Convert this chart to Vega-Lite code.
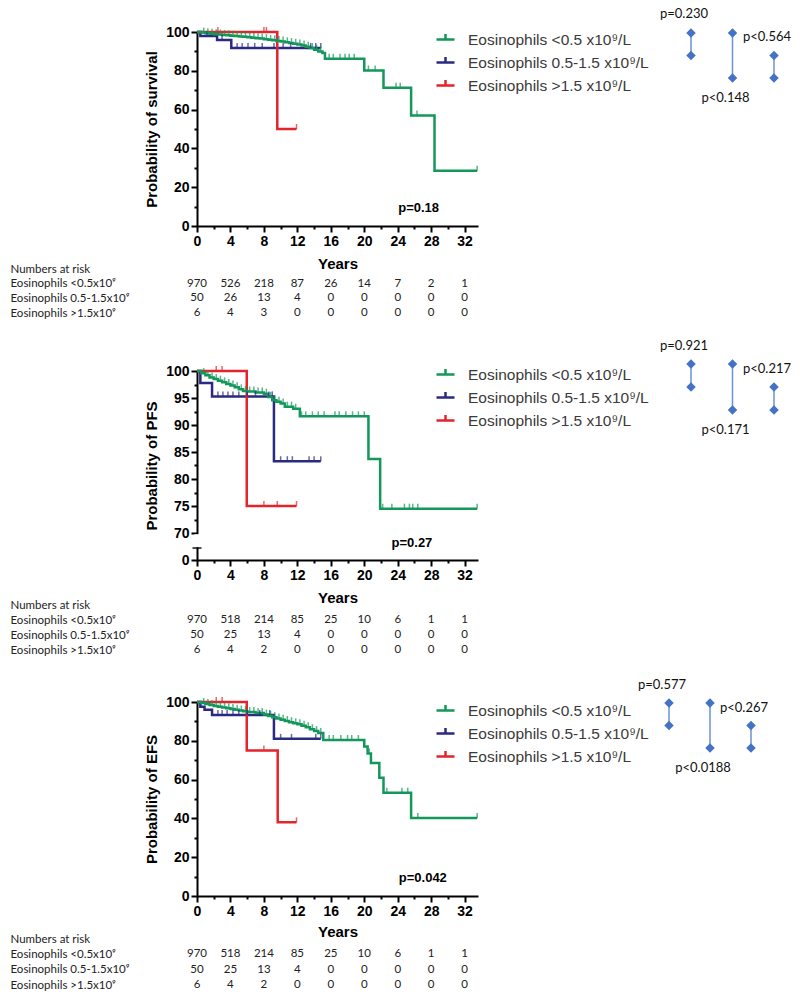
{
  "$schema": "https://vega.github.io/schema/vega-lite/v6.json",
  "padding": {"left": 10, "top": 8, "right": 5, "bottom": 5},
  "background": "white",
  "config": {
    "view": {"stroke": null},
    "axis": {"grid": false, "domainColor": "#000", "domainWidth": 2, "tickColor": "#000", "tickWidth": 2,
      "labelFont": "Liberation Sans", "labelFontWeight": "bold", "labelFontSize": 14, "labelColor": "#000",
      "titleFont": "Liberation Sans", "titleFontWeight": "bold", "titleFontSize": 15, "titleColor": "#000",
      "labelFlush": false, "labelOverlap": false},
    "legend": {"orient": "none", "legendX": 238, "title": null, "padding": 0,
      "symbolType": "M-1,0H1M0,0V-0.6", "symbolSize": 324, "symbolStrokeWidth": 2.5,
      "labelFont": "Liberation Sans", "labelFontSize": 15.5, "labelColor": "#3a3a3a", "labelOffset": 12, "rowPadding": 4, "labelLimit": 300}
  },
  "datasets": {
    "os_c": [
      {"g":"mid","t":0,"s":100},{"g":"mid","t":0.4,"s":98},{"g":"mid","t":2.4,"s":95.9},{"g":"mid","t":4.1,"s":91.8},{"g":"mid","t":14.8,"s":91.8},
      {"g":"hi","t":0,"s":100},{"g":"hi","t":9.6,"s":50},{"g":"hi","t":11.9,"s":50},
      {"g":"lo","t":0,"s":100},{"g":"lo","t":0.5,"s":99.7},{"g":"lo","t":1,"s":99.4},{"g":"lo","t":1.5,"s":99.1},{"g":"lo","t":2,"s":98.9},{"g":"lo","t":2.5,"s":98.7},{"g":"lo","t":3,"s":98.5},{"g":"lo","t":3.5,"s":98.3},{"g":"lo","t":4,"s":98.1},{"g":"lo","t":4.5,"s":97.9},{"g":"lo","t":5,"s":97.7},{"g":"lo","t":5.5,"s":97.5},{"g":"lo","t":6,"s":97.3},{"g":"lo","t":6.5,"s":97.1},{"g":"lo","t":7,"s":96.8},{"g":"lo","t":7.5,"s":96.6},{"g":"lo","t":8,"s":96.3},{"g":"lo","t":8.5,"s":96.0},{"g":"lo","t":9,"s":95.7},{"g":"lo","t":9.5,"s":95.4},{"g":"lo","t":10,"s":95.1},{"g":"lo","t":10.5,"s":94.7},{"g":"lo","t":11,"s":94.3},{"g":"lo","t":11.5,"s":93.9},{"g":"lo","t":12,"s":93.5},{"g":"lo","t":12.5,"s":93.0},{"g":"lo","t":13,"s":92.4},{"g":"lo","t":13.5,"s":91.7},{"g":"lo","t":14,"s":90.9},{"g":"lo","t":14.5,"s":90.0},{"g":"lo","t":15,"s":89.2},{"g":"lo","t":15.3,"s":86.2},{"g":"lo","t":20,"s":80.2},{"g":"lo","t":22.3,"s":71.2},{"g":"lo","t":25.6,"s":57},{"g":"lo","t":28.4,"s":28.5},{"g":"lo","t":33.5,"s":28.5}
    ],
    "os_t": [
      {"g":"hi","t":2.5,"s":100},{"g":"hi","t":8.0,"s":100},{"g":"hi","t":8.3,"s":100},{"g":"hi","t":11.9,"s":50},
      {"g":"mid","t":1.2,"s":98},{"g":"mid","t":3,"s":95.9},{"g":"mid","t":4.8,"s":91.8},{"g":"mid","t":5.4,"s":91.8},{"g":"mid","t":6.1,"s":91.8},{"g":"mid","t":6.9,"s":91.8},{"g":"mid","t":7.8,"s":91.8},{"g":"mid","t":9.2,"s":91.8},{"g":"mid","t":10.3,"s":91.8},{"g":"mid","t":11.2,"s":91.8},{"g":"mid","t":13.6,"s":91.8},{"g":"mid","t":14.2,"s":91.8},{"g":"mid","t":14.8,"s":91.8},
      {"g":"lo","t":0.8,"s":99.7},{"g":"lo","t":1.8,"s":99.1},{"g":"lo","t":2.8,"s":98.7},{"g":"lo","t":3.8,"s":98.3},{"g":"lo","t":4.8,"s":97.9},{"g":"lo","t":5.8,"s":97.5},{"g":"lo","t":6.8,"s":97.1},{"g":"lo","t":7.8,"s":96.6},{"g":"lo","t":8.8,"s":96.0},{"g":"lo","t":9.8,"s":95.4},{"g":"lo","t":10.8,"s":94.7},{"g":"lo","t":11.8,"s":93.9},{"g":"lo","t":12.8,"s":93.0},{"g":"lo","t":13.8,"s":91.7},{"g":"lo","t":14.8,"s":90.0},
      {"g":"lo","t":1.3,"s":99.4},{"g":"lo","t":2.3,"s":98.9},{"g":"lo","t":3.3,"s":98.5},{"g":"lo","t":4.3,"s":98.1},{"g":"lo","t":5.3,"s":97.7},{"g":"lo","t":6.3,"s":97.3},{"g":"lo","t":7.3,"s":96.8},{"g":"lo","t":8.3,"s":96.3},{"g":"lo","t":9.3,"s":95.7},{"g":"lo","t":10.3,"s":95.1},{"g":"lo","t":11.3,"s":94.3},{"g":"lo","t":12.3,"s":93.5},{"g":"lo","t":13.3,"s":92.4},{"g":"lo","t":14.3,"s":90.9},
      {"g":"lo","t":15.8,"s":86.2},{"g":"lo","t":16.3,"s":86.2},{"g":"lo","t":17.1,"s":86.2},{"g":"lo","t":17.7,"s":86.2},{"g":"lo","t":18.2,"s":86.2},{"g":"lo","t":18.8,"s":86.2},{"g":"lo","t":20.5,"s":80.2},{"g":"lo","t":21.3,"s":80.2},{"g":"lo","t":23.8,"s":71.2},{"g":"lo","t":24.3,"s":71.2},{"g":"lo","t":26.3,"s":57},{"g":"lo","t":33.5,"s":28.5}
    ],
    "pfs_c": [
      {"g":"mid","t":0,"s":100},{"g":"mid","t":0.4,"s":97.8},{"g":"mid","t":1.8,"s":95.3},{"g":"mid","t":9.2,"s":83.3},{"g":"mid","t":14.8,"s":83.3},
      {"g":"hi","t":0,"s":100},{"g":"hi","t":5.95,"s":75},{"g":"hi","t":11.9,"s":75},
      {"g":"lo","t":0,"s":100},{"g":"lo","t":0.5,"s":99.6},{"g":"lo","t":1,"s":99.2},{"g":"lo","t":1.5,"s":98.8},{"g":"lo","t":2,"s":98.5},{"g":"lo","t":2.5,"s":98.2},{"g":"lo","t":3,"s":97.9},{"g":"lo","t":3.5,"s":97.6},{"g":"lo","t":4,"s":97.3},{"g":"lo","t":4.5,"s":97.0},{"g":"lo","t":5,"s":96.6},{"g":"lo","t":5.5,"s":96.3},{"g":"lo","t":6,"s":96.2},{"g":"lo","t":7,"s":96.0},{"g":"lo","t":8,"s":95.8},{"g":"lo","t":8.5,"s":95.2},{"g":"lo","t":9,"s":94.6},{"g":"lo","t":9.5,"s":94.3},{"g":"lo","t":10,"s":94.0},{"g":"lo","t":10.5,"s":93.4},{"g":"lo","t":11.5,"s":93.0},{"g":"lo","t":12.3,"s":91.6},{"g":"lo","t":20.5,"s":83.7},{"g":"lo","t":21.9,"s":74.5},{"g":"lo","t":33.5,"s":74.5}
    ],
    "pfs_t": [
      {"g":"hi","t":2.3,"s":100},{"g":"hi","t":3,"s":100},{"g":"hi","t":8,"s":75},{"g":"hi","t":9.6,"s":75},{"g":"hi","t":11.9,"s":75},
      {"g":"mid","t":2.5,"s":95.3},{"g":"mid","t":3.1,"s":95.3},{"g":"mid","t":3.7,"s":95.3},{"g":"mid","t":4.3,"s":95.3},{"g":"mid","t":5,"s":95.3},{"g":"mid","t":6,"s":95.3},{"g":"mid","t":7,"s":95.3},{"g":"mid","t":8.6,"s":95.3},{"g":"mid","t":9,"s":95.3},{"g":"mid","t":10,"s":83.3},{"g":"mid","t":10.8,"s":83.3},{"g":"mid","t":11.4,"s":83.3},{"g":"mid","t":13.4,"s":83.3},{"g":"mid","t":14,"s":83.3},{"g":"mid","t":14.8,"s":83.3},
      {"g":"lo","t":0.8,"s":99.6},{"g":"lo","t":1.8,"s":98.8},{"g":"lo","t":2.8,"s":98.2},{"g":"lo","t":3.8,"s":97.6},{"g":"lo","t":4.8,"s":97.0},{"g":"lo","t":5.8,"s":96.3},{"g":"lo","t":6.8,"s":96.2},{"g":"lo","t":7.8,"s":96.0},{"g":"lo","t":8.8,"s":95.2},{"g":"lo","t":9.8,"s":94.3},{"g":"lo","t":10.8,"s":93.4},{"g":"lo","t":11.8,"s":93.0},
      {"g":"lo","t":1.3,"s":99.2},{"g":"lo","t":2.3,"s":98.5},{"g":"lo","t":3.3,"s":97.9},{"g":"lo","t":4.3,"s":97.3},{"g":"lo","t":5.3,"s":96.6},{"g":"lo","t":6.3,"s":96.2},{"g":"lo","t":7.3,"s":96.0},{"g":"lo","t":8.3,"s":95.8},{"g":"lo","t":9.3,"s":94.6},{"g":"lo","t":10.3,"s":94.0},{"g":"lo","t":11.3,"s":93.4},{"g":"lo","t":12.5,"s":91.6},
      {"g":"lo","t":13,"s":91.6},{"g":"lo","t":13.8,"s":91.6},{"g":"lo","t":14.5,"s":91.6},{"g":"lo","t":15.2,"s":91.6},{"g":"lo","t":16.5,"s":91.6},{"g":"lo","t":17,"s":91.6},{"g":"lo","t":17.8,"s":91.6},{"g":"lo","t":18.6,"s":91.6},{"g":"lo","t":19.3,"s":91.6},{"g":"lo","t":20,"s":91.6},{"g":"lo","t":22.2,"s":74.5},{"g":"lo","t":23.3,"s":74.5},{"g":"lo","t":24.8,"s":74.5},{"g":"lo","t":25.4,"s":74.5},{"g":"lo","t":25.8,"s":74.5},{"g":"lo","t":26.4,"s":74.5},{"g":"lo","t":33.5,"s":74.5}
    ],
    "efs_c": [
      {"g":"mid","t":0,"s":100},{"g":"mid","t":0.4,"s":97.5},{"g":"mid","t":0.9,"s":96},{"g":"mid","t":1.8,"s":93.3},{"g":"mid","t":9.2,"s":81},{"g":"mid","t":14.8,"s":81},
      {"g":"hi","t":0,"s":100},{"g":"hi","t":5.95,"s":75},{"g":"hi","t":9.65,"s":38},{"g":"hi","t":11.9,"s":38},
      {"g":"lo","t":0,"s":100},{"g":"lo","t":0.5,"s":99.5},{"g":"lo","t":1,"s":99.0},{"g":"lo","t":1.5,"s":98.5},{"g":"lo","t":2,"s":98.0},{"g":"lo","t":2.5,"s":97.6},{"g":"lo","t":3,"s":97.2},{"g":"lo","t":3.5,"s":96.8},{"g":"lo","t":4,"s":96.4},{"g":"lo","t":4.5,"s":96.0},{"g":"lo","t":5,"s":95.6},{"g":"lo","t":5.5,"s":95.2},{"g":"lo","t":6,"s":94.8},{"g":"lo","t":7,"s":94.3},{"g":"lo","t":8,"s":93.5},{"g":"lo","t":8.5,"s":92.8},{"g":"lo","t":9,"s":92.2},{"g":"lo","t":9.5,"s":91.5},{"g":"lo","t":10,"s":90.8},{"g":"lo","t":10.5,"s":90.2},{"g":"lo","t":11,"s":89.6},{"g":"lo","t":11.5,"s":89.0},{"g":"lo","t":12,"s":88.5},{"g":"lo","t":12.5,"s":87.8},{"g":"lo","t":13,"s":87.0},{"g":"lo","t":13.5,"s":86.0},{"g":"lo","t":14,"s":85.0},{"g":"lo","t":14.5,"s":84.0},{"g":"lo","t":15.1,"s":80.4},{"g":"lo","t":20,"s":77},{"g":"lo","t":20.4,"s":73.5},{"g":"lo","t":20.8,"s":68.5},{"g":"lo","t":21.8,"s":61},{"g":"lo","t":22.3,"s":53.2},{"g":"lo","t":25.6,"s":40.2},{"g":"lo","t":33.5,"s":40.2}
    ],
    "efs_t": [
      {"g":"hi","t":2.3,"s":100},{"g":"hi","t":3,"s":100},{"g":"hi","t":8,"s":75},{"g":"hi","t":11.9,"s":38},
      {"g":"mid","t":2.5,"s":93.3},{"g":"mid","t":3,"s":93.3},{"g":"mid","t":3.6,"s":93.3},{"g":"mid","t":4.3,"s":93.3},{"g":"mid","t":5,"s":93.3},{"g":"mid","t":6,"s":93.3},{"g":"mid","t":7.5,"s":93.3},{"g":"mid","t":8.7,"s":93.3},{"g":"mid","t":10,"s":81},{"g":"mid","t":11.3,"s":81},{"g":"mid","t":14.2,"s":81},{"g":"mid","t":14.8,"s":81},
      {"g":"lo","t":0.8,"s":99.5},{"g":"lo","t":1.8,"s":98.5},{"g":"lo","t":2.8,"s":97.6},{"g":"lo","t":3.8,"s":96.8},{"g":"lo","t":4.8,"s":96.0},{"g":"lo","t":5.8,"s":95.2},{"g":"lo","t":6.8,"s":94.8},{"g":"lo","t":7.8,"s":94.3},{"g":"lo","t":8.8,"s":92.8},{"g":"lo","t":9.8,"s":91.5},{"g":"lo","t":10.8,"s":90.2},{"g":"lo","t":11.8,"s":89.0},{"g":"lo","t":12.8,"s":87.8},{"g":"lo","t":13.8,"s":86.0},{"g":"lo","t":14.8,"s":84.0},
      {"g":"lo","t":1.3,"s":99.0},{"g":"lo","t":2.3,"s":98.0},{"g":"lo","t":3.3,"s":97.2},{"g":"lo","t":4.3,"s":96.4},{"g":"lo","t":5.3,"s":95.6},{"g":"lo","t":6.3,"s":94.8},{"g":"lo","t":7.3,"s":94.3},{"g":"lo","t":8.3,"s":93.5},{"g":"lo","t":9.3,"s":92.2},{"g":"lo","t":10.3,"s":90.8},{"g":"lo","t":11.3,"s":89.6},{"g":"lo","t":12.3,"s":88.5},{"g":"lo","t":13.3,"s":87.0},{"g":"lo","t":14.3,"s":85.0},
      {"g":"lo","t":15.8,"s":80.4},{"g":"lo","t":16.3,"s":80.4},{"g":"lo","t":17.2,"s":80.4},{"g":"lo","t":18,"s":80.4},{"g":"lo","t":18.5,"s":80.4},{"g":"lo","t":19.3,"s":80.4},{"g":"lo","t":20.6,"s":73.5},{"g":"lo","t":22.7,"s":53.2},{"g":"lo","t":24.5,"s":53.2},{"g":"lo","t":25.2,"s":53.2},{"g":"lo","t":26.4,"s":40.2},{"g":"lo","t":33.5,"s":40.2}
    ],
    "risk1": [
      {"row":"lo","t":0,"n":"970"},{"row":"lo","t":4,"n":"526"},{"row":"lo","t":8,"n":"218"},{"row":"lo","t":12,"n":"87"},{"row":"lo","t":16,"n":"26"},{"row":"lo","t":20,"n":"14"},{"row":"lo","t":24,"n":"7"},{"row":"lo","t":28,"n":"2"},{"row":"lo","t":32,"n":"1"},
      {"row":"mid","t":0,"n":"50"},{"row":"mid","t":4,"n":"26"},{"row":"mid","t":8,"n":"13"},{"row":"mid","t":12,"n":"4"},{"row":"mid","t":16,"n":"0"},{"row":"mid","t":20,"n":"0"},{"row":"mid","t":24,"n":"0"},{"row":"mid","t":28,"n":"0"},{"row":"mid","t":32,"n":"0"},
      {"row":"hi","t":0,"n":"6"},{"row":"hi","t":4,"n":"4"},{"row":"hi","t":8,"n":"3"},{"row":"hi","t":12,"n":"0"},{"row":"hi","t":16,"n":"0"},{"row":"hi","t":20,"n":"0"},{"row":"hi","t":24,"n":"0"},{"row":"hi","t":28,"n":"0"},{"row":"hi","t":32,"n":"0"}
    ],
    "risk2": [
      {"row":"lo","t":0,"n":"970"},{"row":"lo","t":4,"n":"518"},{"row":"lo","t":8,"n":"214"},{"row":"lo","t":12,"n":"85"},{"row":"lo","t":16,"n":"25"},{"row":"lo","t":20,"n":"10"},{"row":"lo","t":24,"n":"6"},{"row":"lo","t":28,"n":"1"},{"row":"lo","t":32,"n":"1"},
      {"row":"mid","t":0,"n":"50"},{"row":"mid","t":4,"n":"25"},{"row":"mid","t":8,"n":"13"},{"row":"mid","t":12,"n":"4"},{"row":"mid","t":16,"n":"0"},{"row":"mid","t":20,"n":"0"},{"row":"mid","t":24,"n":"0"},{"row":"mid","t":28,"n":"0"},{"row":"mid","t":32,"n":"0"},
      {"row":"hi","t":0,"n":"6"},{"row":"hi","t":4,"n":"4"},{"row":"hi","t":8,"n":"2"},{"row":"hi","t":12,"n":"0"},{"row":"hi","t":16,"n":"0"},{"row":"hi","t":20,"n":"0"},{"row":"hi","t":24,"n":"0"},{"row":"hi","t":28,"n":"0"},{"row":"hi","t":32,"n":"0"}
    ],
    "d1": [{"c":1,"a":1,"b":2,"p":"p=0.230","pos":"above"},{"c":2,"a":1,"b":3,"p":"p<0.148","pos":"below"},{"c":3,"a":2,"b":3,"p":"p<0.564","pos":"above"}],
    "d2": [{"c":1,"a":1,"b":2,"p":"p=0.921","pos":"above"},{"c":2,"a":1,"b":3,"p":"p<0.171","pos":"below"},{"c":3,"a":2,"b":3,"p":"p<0.217","pos":"above"}],
    "d3": [{"c":1,"a":1,"b":2,"p":"p=0.577","pos":"above"},{"c":2,"a":1,"b":3,"p":"p<0.0188","pos":"below"},{"c":3,"a":2,"b":3,"p":"p<0.267","pos":"above"}]
  },
  "resolve": {"scale": {"color": "independent"}, "legend": {"color": "independent"}},
  "spacing": -12,
  "hconcat": [
    {
      "bounds": "flush",
      "spacing": 42,
      "resolve": {"scale": {"color": "independent"}, "legend": {"color": "independent"}},
      "vconcat": [
        {
          "width": 281, "height": 194,
          "encoding": {
            "x": {"field": "t", "type": "quantitative", "scale": {"domain": [0, 33.6], "nice": false, "zero": false},
              "axis": {"values": [0,2,4,6,8,10,12,14,16,18,20,22,24,26,28,30,32], "format": "d", "labelExpr": "datum.value % 4 === 0 ? datum.label : ''",
                "tickSize": {"condition": {"test": "datum.value % 4 === 0", "value": 6}, "value": 3}, "labelPadding": 2, "title": "Years", "titlePadding": 8}},
            "y": {"field": "s", "type": "quantitative", "scale": {"domain": [0, 100], "nice": false, "zero": false},
              "axis": {"values": [0,10,20,30,40,50,60,70,80,90,100], "format": "d", "labelExpr": "datum.value % 20 === 0 ? datum.label : ''",
                "tickSize": {"condition": {"test": "datum.value % 20 === 0", "value": 6}, "value": 3}, "labelPadding": 2, "title": "Probability of survival", "titlePadding": 6}}
          },
          "layer": [
            {"data": {"name": "os_c"}, "mark": {"type": "line", "interpolate": "step-after", "strokeWidth": 2.5},
              "encoding": {"color": {"field": "g", "type": "nominal", "scale": {"domain": ["lo", "mid", "hi"], "range": ["#13975a", "#2b2a83", "#e4232b"]},
                "legend": {"legendY": -3, "labelExpr": "datum.value === 'lo' ? 'Eosinophils <0.5 x10⁹/L' : datum.value === 'mid' ? 'Eosinophils 0.5-1.5 x10⁹/L' : 'Eosinophils >1.5 x10⁹/L'"}}}},
            {"data": {"name": "os_t"}, "mark": {"type": "tick", "orient": "vertical", "size": 5, "thickness": 1.5, "yOffset": -2.5},
              "encoding": {"color": {"field": "g", "type": "nominal", "legend": null}}},
            {"data": {"values": [{"t": 26.5, "s": 9.3, "label": "p=0.18"}]}, "mark": {"type": "text", "font": "Liberation Sans", "fontWeight": "bold", "fontSize": 13, "color": "#000"},
              "encoding": {"text": {"field": "label"}}}
          ]
        },
        {
          "width": 281, "height": 61,
          "data": {"name": "risk1"},
          "mark": {"type": "text", "font": "Lato", "fontSize": 11.5, "color": "#222"},
          "encoding": {
            "x": {"field": "t", "type": "quantitative", "scale": {"domain": [0, 33.6], "nice": false, "zero": false}, "axis": null},
            "y": {"field": "row", "type": "nominal", "scale": {"type": "point", "domain": ["hdr", "lo", "mid", "hi"], "range": [1, 45], "padding": 0},
              "axis": {"title": null, "domain": false, "ticks": false, "tickSize": 0, "labelAlign": "left", "labelPadding": 187, "labelFont": "Lato", "labelFontSize": 11.5, "labelFontWeight": "normal", "labelColor": "#222",
                "labelExpr": "datum.value === 'hdr' ? 'Numbers at risk' : datum.value === 'lo' ? 'Eosinophils <0.5x10⁹' : datum.value === 'mid' ? 'Eosinophils 0.5-1.5x10⁹' : 'Eosinophils >1.5x10⁹'"}},
            "text": {"field": "n"}
          }
        },
        {
          "width": 281, "height": 189,
          "encoding": {
            "x": {"field": "t", "type": "quantitative", "scale": {"domain": [0, 33.6], "nice": false, "zero": false},
              "axis": {"values": [0,2,4,6,8,10,12,14,16,18,20,22,24,26,28,30,32], "format": "d", "labelExpr": "datum.value % 4 === 0 ? datum.label : ''",
                "tickSize": {"condition": {"test": "datum.value % 4 === 0", "value": 6}, "value": 3}, "labelPadding": 2, "title": "Years", "titlePadding": 8}},
            "y": {"field": "s", "type": "quantitative", "scale": {"domain": [0, 70, 100], "range": [189, 162, 0], "nice": false, "zero": false},
              "axis": {"values": [0,70,72.5,75,77.5,80,82.5,85,87.5,90,92.5,95,97.5,100], "format": "d", "labelExpr": "datum.value % 5 === 0 ? datum.label : ''",
                "tickSize": {"condition": {"test": "datum.value % 5 === 0", "value": 6}, "value": 3}, "labelPadding": 2, "title": "Probability of PFS", "titlePadding": 6}}
          },
          "layer": [
            {"data": {"values": [{"t": 0, "s": 33, "s2": 67}]}, "mark": {"type": "rule", "color": "white", "strokeWidth": 5},
              "encoding": {"y2": {"field": "s2"}}},
            {"data": {"values": [{"t": 0, "s": 31}]}, "mark": {"type": "tick", "orient": "horizontal", "size": 9, "thickness": 2, "color": "#000"}},
            {"data": {"name": "pfs_c"}, "mark": {"type": "line", "interpolate": "step-after", "strokeWidth": 2.5},
              "encoding": {"color": {"field": "g", "type": "nominal", "scale": {"domain": ["lo", "mid", "hi"], "range": ["#13975a", "#2b2a83", "#e4232b"]},
                "legend": {"legendY": -7, "labelExpr": "datum.value === 'lo' ? 'Eosinophils <0.5 x10⁹/L' : datum.value === 'mid' ? 'Eosinophils 0.5-1.5 x10⁹/L' : 'Eosinophils >1.5 x10⁹/L'"}}}},
            {"data": {"name": "pfs_t"}, "mark": {"type": "tick", "orient": "vertical", "size": 5, "thickness": 1.5, "yOffset": -2.5},
              "encoding": {"color": {"field": "g", "type": "nominal", "legend": null}}},
            {"data": {"values": [{"t": 25.7, "s": 45, "label": "p=0.27"}]}, "mark": {"type": "text", "font": "Liberation Sans", "fontWeight": "bold", "fontSize": 13, "color": "#000"},
              "encoding": {"text": {"field": "label"}}}
          ]
        },
        {
          "width": 281, "height": 58,
          "data": {"name": "risk2"},
          "mark": {"type": "text", "font": "Lato", "fontSize": 11.5, "color": "#222"},
          "encoding": {
            "x": {"field": "t", "type": "quantitative", "scale": {"domain": [0, 33.6], "nice": false, "zero": false}, "axis": null},
            "y": {"field": "row", "type": "nominal", "scale": {"type": "point", "domain": ["hdr", "lo", "mid", "hi"], "range": [3, 48], "padding": 0},
              "axis": {"title": null, "domain": false, "ticks": false, "tickSize": 0, "labelAlign": "left", "labelPadding": 187, "labelFont": "Lato", "labelFontSize": 11.5, "labelFontWeight": "normal", "labelColor": "#222",
                "labelExpr": "datum.value === 'hdr' ? 'Numbers at risk' : datum.value === 'lo' ? 'Eosinophils <0.5x10⁹' : datum.value === 'mid' ? 'Eosinophils 0.5-1.5x10⁹' : 'Eosinophils >1.5x10⁹'"}},
            "text": {"field": "n"}
          }
        },
        {
          "width": 281, "height": 194,
          "encoding": {
            "x": {"field": "t", "type": "quantitative", "scale": {"domain": [0, 33.6], "nice": false, "zero": false},
              "axis": {"values": [0,2,4,6,8,10,12,14,16,18,20,22,24,26,28,30,32], "format": "d", "labelExpr": "datum.value % 4 === 0 ? datum.label : ''",
                "tickSize": {"condition": {"test": "datum.value % 4 === 0", "value": 6}, "value": 3}, "labelPadding": 2, "title": "Years", "titlePadding": 6}},
            "y": {"field": "s", "type": "quantitative", "scale": {"domain": [0, 100], "nice": false, "zero": false},
              "axis": {"values": [0,10,20,30,40,50,60,70,80,90,100], "format": "d", "labelExpr": "datum.value % 20 === 0 ? datum.label : ''",
                "tickSize": {"condition": {"test": "datum.value % 20 === 0", "value": 6}, "value": 3}, "labelPadding": 2, "title": "Probability of EFS", "titlePadding": 6}}
          },
          "layer": [
            {"data": {"name": "efs_c"}, "mark": {"type": "line", "interpolate": "step-after", "strokeWidth": 2.5},
              "encoding": {"color": {"field": "g", "type": "nominal", "scale": {"domain": ["lo", "mid", "hi"], "range": ["#13975a", "#2b2a83", "#e4232b"]},
                "legend": {"legendY": -2, "labelExpr": "datum.value === 'lo' ? 'Eosinophils <0.5 x10⁹/L' : datum.value === 'mid' ? 'Eosinophils 0.5-1.5 x10⁹/L' : 'Eosinophils >1.5 x10⁹/L'"}}}},
            {"data": {"name": "efs_t"}, "mark": {"type": "tick", "orient": "vertical", "size": 5, "thickness": 1.5, "yOffset": -2.5},
              "encoding": {"color": {"field": "g", "type": "nominal", "legend": null}}},
            {"data": {"values": [{"t": 27, "s": 9.4, "label": "p=0.042"}]}, "mark": {"type": "text", "font": "Liberation Sans", "fontWeight": "bold", "fontSize": 13, "color": "#000"},
              "encoding": {"text": {"field": "label"}}}
          ]
        },
        {
          "width": 281, "height": 47,
          "data": {"name": "risk2"},
          "mark": {"type": "text", "font": "Lato", "fontSize": 11.5, "color": "#222"},
          "encoding": {
            "x": {"field": "t", "type": "quantitative", "scale": {"domain": [0, 33.6], "nice": false, "zero": false}, "axis": null},
            "y": {"field": "row", "type": "nominal", "scale": {"type": "point", "domain": ["hdr", "lo", "mid", "hi"], "range": [1, 47], "padding": 0},
              "axis": {"title": null, "domain": false, "ticks": false, "tickSize": 0, "labelAlign": "left", "labelPadding": 187, "labelFont": "Lato", "labelFontSize": 11.5, "labelFontWeight": "normal", "labelColor": "#222",
                "labelExpr": "datum.value === 'hdr' ? 'Numbers at risk' : datum.value === 'lo' ? 'Eosinophils <0.5x10⁹' : datum.value === 'mid' ? 'Eosinophils 0.5-1.5x10⁹' : 'Eosinophils >1.5x10⁹'"}},
            "text": {"field": "n"}
          }
        }
      ]
    },
    {
      "bounds": "flush",
      "spacing": 285,
      "vconcat": [
        {
          "width": 83, "height": 45,
          "data": {"name": "d1"},
          "encoding": {"x": {"field": "c", "type": "quantitative", "scale": {"domain": [1, 3], "range": [0, 83], "nice": false, "zero": false}, "axis": null}},
          "layer": [
            {"mark": {"type": "rule", "color": "#6d90d3", "strokeWidth": 1.5},
              "encoding": {"y": {"field": "a", "type": "quantitative", "scale": {"domain": [1, 3], "range": [1, 46], "nice": false, "zero": false}, "axis": null}, "y2": {"field": "b"}}},
            {"transform": [{"fold": ["a", "b"], "as": ["end", "lv"]}], "mark": {"type": "point", "shape": "diamond", "filled": true, "size": 90, "color": "#4472c4", "opacity": 1},
              "encoding": {"y": {"field": "lv", "type": "quantitative", "axis": null}}},
            {"transform": [{"filter": "datum.pos === 'above'"}], "mark": {"type": "text", "dx": -7, "dy": -19, "font": "Lato", "fontSize": 13, "color": "#111"},
              "encoding": {"y": {"field": "a", "type": "quantitative", "axis": null}, "text": {"field": "p"}}},
            {"transform": [{"filter": "datum.pos === 'below'"}], "mark": {"type": "text", "dx": -7, "dy": 20, "font": "Lato", "fontSize": 13, "color": "#111"},
              "encoding": {"y": {"field": "b", "type": "quantitative", "axis": null}, "text": {"field": "p"}}}
          ]
        },
        {
          "width": 83, "height": 55,
          "data": {"name": "d2"},
          "encoding": {"x": {"field": "c", "type": "quantitative", "scale": {"domain": [1, 3], "range": [0, 83], "nice": false, "zero": false}, "axis": null}},
          "layer": [
            {"mark": {"type": "rule", "color": "#6d90d3", "strokeWidth": 1.5},
              "encoding": {"y": {"field": "a", "type": "quantitative", "scale": {"domain": [1, 3], "range": [2, 48], "nice": false, "zero": false}, "axis": null}, "y2": {"field": "b"}}},
            {"transform": [{"fold": ["a", "b"], "as": ["end", "lv"]}], "mark": {"type": "point", "shape": "diamond", "filled": true, "size": 90, "color": "#4472c4", "opacity": 1},
              "encoding": {"y": {"field": "lv", "type": "quantitative", "axis": null}}},
            {"transform": [{"filter": "datum.pos === 'above'"}], "mark": {"type": "text", "dx": -7, "dy": -18, "font": "Lato", "fontSize": 13, "color": "#111"},
              "encoding": {"y": {"field": "a", "type": "quantitative", "axis": null}, "text": {"field": "p"}}},
            {"transform": [{"filter": "datum.pos === 'below'"}], "mark": {"type": "text", "dx": -7, "dy": 20, "font": "Lato", "fontSize": 13, "color": "#111"},
              "encoding": {"y": {"field": "b", "type": "quantitative", "axis": null}, "text": {"field": "p"}}}
          ]
        },
        {
          "width": 83, "height": 45,
          "data": {"name": "d3"},
          "encoding": {"x": {"field": "c", "type": "quantitative", "scale": {"domain": [1, 3], "range": [-22, 60], "nice": false, "zero": false}, "axis": null}},
          "layer": [
            {"mark": {"type": "rule", "color": "#6d90d3", "strokeWidth": 1.5},
              "encoding": {"y": {"field": "a", "type": "quantitative", "scale": {"domain": [1, 3], "range": [1, 46], "nice": false, "zero": false}, "axis": null}, "y2": {"field": "b"}}},
            {"transform": [{"fold": ["a", "b"], "as": ["end", "lv"]}], "mark": {"type": "point", "shape": "diamond", "filled": true, "size": 90, "color": "#4472c4", "opacity": 1},
              "encoding": {"y": {"field": "lv", "type": "quantitative", "axis": null}}},
            {"transform": [{"filter": "datum.pos === 'above'"}], "mark": {"type": "text", "dx": -7, "dy": -18, "font": "Lato", "fontSize": 13, "color": "#111"},
              "encoding": {"y": {"field": "a", "type": "quantitative", "axis": null}, "text": {"field": "p"}}},
            {"transform": [{"filter": "datum.pos === 'below'"}], "mark": {"type": "text", "dx": -7, "dy": 20, "font": "Lato", "fontSize": 13, "color": "#111"},
              "encoding": {"y": {"field": "b", "type": "quantitative", "axis": null}, "text": {"field": "p"}}}
          ]
        }
      ]
    }
  ]
}
